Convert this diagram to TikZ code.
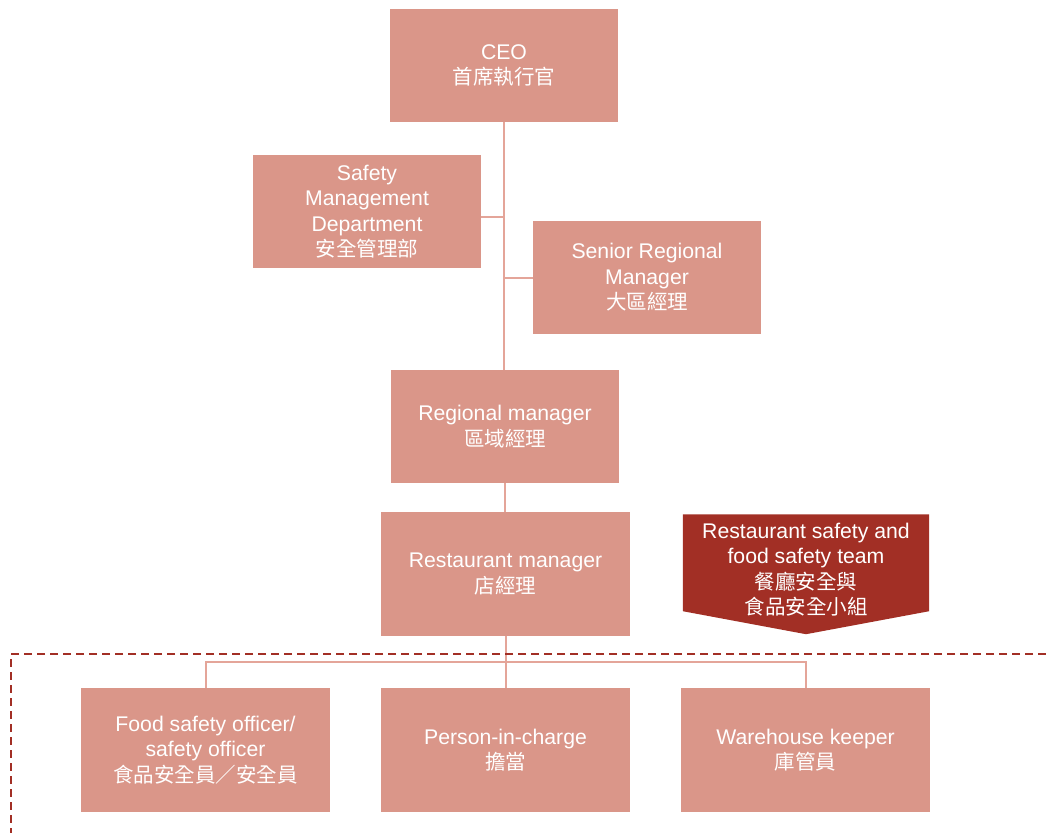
\documentclass[tikz,border=0pt]{standalone}
\usepackage{fontspec}
\setmainfont{Liberation Sans}[Scale=1.035]
\newfontfamily\cjk{Noto Sans CJK TC}
\usetikzlibrary{backgrounds}
\definecolor{boxc}{RGB}{218,150,137}
\definecolor{linkc}{RGB}{228,165,153}
\definecolor{darkred}{RGB}{162,47,37}
\tikzset{
  orgbox/.style={fill=boxc, text=white, align=center, inner sep=0pt,
    font=\fontsize{20.5}{25.5}\selectfont},
  midbox/.style={orgbox, minimum width=228pt, minimum height=113pt},
  lowbox/.style={orgbox, minimum width=249pt, minimum height=124pt},
  link/.style={draw=linkc, line width=2pt},
  region/.style={draw=darkred, line width=2.5pt, dash pattern=on 8pt off 5pt},
}
\begin{document}
\begin{tikzpicture}[x=1pt,y=-1pt]
\useasboundingbox (0,0) rectangle (1046,833);
% nodes
\node[midbox] (ceo) at (504,65.5) {CEO\\{\cjk 首席執行官}};
\node[midbox] (safety) at (367,211.5) {Safety\\Management\\Department\\{\cjk 安全管理部}};
\node[midbox] (senior) at (647,277.5) {Senior Regional\\Manager\\{\cjk 大區經理}};
\node[midbox] (regional) at (505,426.5) {Regional manager\\{\cjk 區域經理}};
\node[lowbox] (restaurant) at (505.5,574) {Restaurant manager\\{\cjk 店經理}};
\node[orgbox, fill=none, minimum width=246pt, minimum height=110pt] (team) at (806,569.5)
  {Restaurant safety and\\food safety team\\{\cjk 餐廳安全與}\\{\cjk 食品安全小組}};
\begin{scope}[on background layer]
\fill[darkred] (team.north west) -- (team.north east) -- ([yshift=13.5pt]team.south east)
  -- ([yshift=-9.5pt]team.south) -- ([yshift=13.5pt]team.south west) -- cycle;
\end{scope}
\node[lowbox] (food) at (205.5,750) {Food safety officer/\\safety officer\\{\cjk 食品安全員／安全員}};
\node[lowbox] (person) at (505.5,750) {Person-in-charge\\{\cjk 擔當}};
\node[lowbox] (ware) at (805.5,750) {Warehouse keeper\\{\cjk 庫管員}};
% connectors
\begin{scope}[on background layer]
\draw[link] (ceo.south) -- (ceo.south |- regional.north);
\draw[link] ([yshift=-5pt]safety.east) -- ([yshift=-5pt]safety.east -| ceo.south);
\draw[link] (senior.west) -- (senior.west -| ceo.south);
\draw[link] (regional.south) -- (regional.south |- restaurant.north);
\coordinate (bus) at (505.5,662);
\draw[link] (restaurant.south) -- (person.north);
\draw[link] (food.north) |- (bus) -| (ware.north);
\end{scope}
% region border
\draw[region] (1046,654) -- (11,654) -- (11,833);
\end{tikzpicture}
\end{document}
